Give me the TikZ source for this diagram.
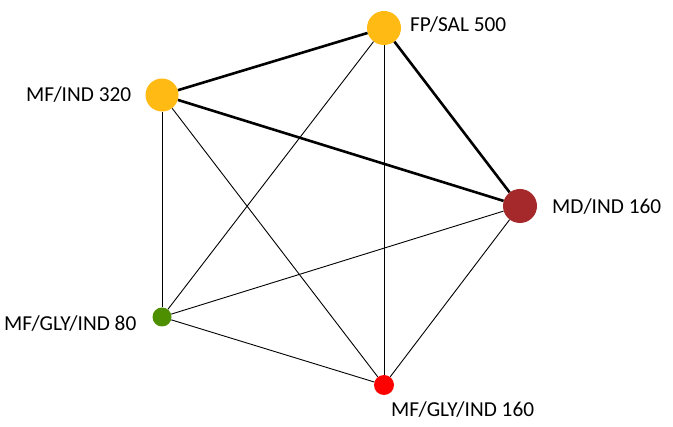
\documentclass[tikz,border=0pt]{standalone}
\usepackage{fontspec}
\setmainfont{Carlito}
\definecolor{gold}{HTML}{FFBB14}
\definecolor{brick}{HTML}{A5292A}
\definecolor{leaf}{HTML}{4E8F00}
\definecolor{scarlet}{HTML}{FF0000}
\tikzset{
  trt/.style={circle,inner sep=0pt},
  lbl/.style={anchor=base west,inner sep=0pt,font=\fontsize{21.3}{25}\selectfont},
  strong/.style={line width=2.6pt},
  weak/.style={line width=0.9pt}
}
\begin{document}
\begin{tikzpicture}[x=1pt,y=-1pt]
  \useasboundingbox (0,0) rectangle (673,427);
	\node[trt,fill=gold,minimum size=34pt] (fp) at (384,28) {};
	\node[trt,fill=gold,minimum size=33pt] (mfind) at (162,95) {};
	\node[trt,fill=brick,minimum size=34pt] (mdind) at (520,206) {};
	\node[trt,fill=leaf,minimum size=19pt] (gly80) at (162,317) {};
	\node[trt,fill=scarlet,minimum size=20pt] (gly160) at (384,385) {};

	\node[lbl] (fpl) at (410,32) {FP/SAL 500};
	\node[lbl] (mfindl) at (26,102) {MF/IND 320};
	\node[lbl] (mdindl) at (552,214) {MD/IND 160};
	\node[lbl] (gly80l) at (4,331) {MF/GLY/IND 80};
	\node[lbl] (gly160l) at (391,417) {MF/GLY/IND 160};

	\draw[strong] (fp) -- (mfind);
	\draw[strong] (fp) -- (mdind);
	\draw[strong] (mfind) -- (mdind);

	\draw[weak] (fp) -- (gly80);
	\draw[weak] (fp) -- (gly160);
	\draw[weak] (mfind) -- (gly80);
	\draw[weak] (mfind) -- (gly160);
	\draw[weak] (mdind) -- (gly80);
	\draw[weak] (mdind) -- (gly160);
	\draw[weak] (gly80) -- (gly160);
\end{tikzpicture}
\end{document}
